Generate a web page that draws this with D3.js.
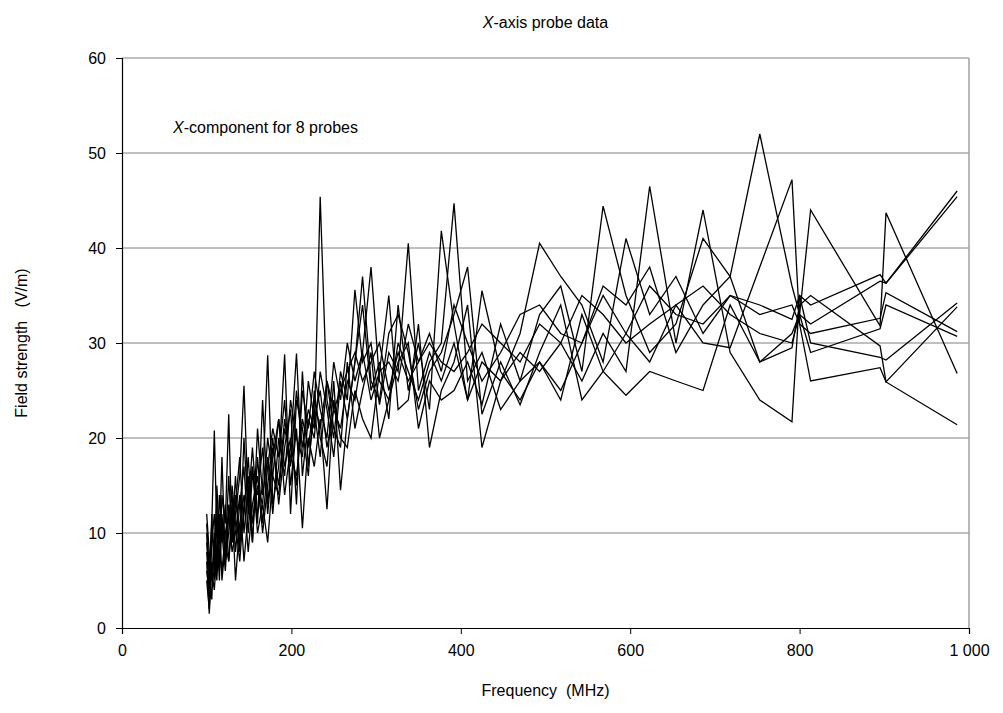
<!DOCTYPE html>
<html>
<head>
<meta charset="utf-8">
<script src="https://cdn.jsdelivr.net/npm/d3@7"></script>
<style>
  body { margin: 0; background: #fff; }
  svg text { font-family: "Liberation Sans", Arial, sans-serif; fill: #000; }
</style>
</head>
<body>
<svg id="chart"></svg>
<script>
const W = 1003, H = 713;
const margin = { top: 58, right: 34, bottom: 85, left: 122 };
const innerW = W - margin.left - margin.right;
const innerH = H - margin.top - margin.bottom;

// frequencies (MHz), shared by all probes
const freq = [100,103,106,109,112,115,118,122,126,130,
  134,139,144,149,154,160,166,172,178,185,
  192,199,206,213,220,227,234,242,250,258,
  266,275,284,294,304,315,326,338,350,363,
  377,392,408,425,447,470,493,518,543,568,
  595,623,654,686,718,753,791,800,813,895,
  902,986];

// field strength (V/m) per probe
const probe1 = [8,4,12,6,15,9,18,7,13,10, 16,8,20,12,17,11,24,13,19,15,
  22,17,25,19,23,21,45.4,24,20,27, 24,35.6,28,30,23.5,29,27,40.5,25,29,
  26,30,24,28,26,31,40.5,37,34,28, 41,33,37,31,35,34,32.5,35,34,37.2, 36.3,46.0];
const probe2 = [11,6,3,9,13,6,11,8,16,9, 13,18,10,15,9,21,14,18,12,20,
  16,24,20,18,26,22,25,19,23,21, 26,24,29,38,26,24,30,27,24,28,
  30,44.7,26,29,23,26,33,36,27,44.4, 35,29,32,41,37,28,31,33,32,36.5, 36.3,45.4];
const probe3 = [5,2,9,12,7,14,10,6,12,8, 10,14,7,12,17,10,13,9,16,22,
  14,19,28.9,16,22,20,27,23,18,26, 22,28,34,25,28,22,34,25,30,23,
  41.8,32,24,35.5,27,24,28,25,30,36, 34,38,29,34,37,52,36,33,44,31.8, 43.7,26.8];
const probe4 = [9,6,11,20.8,10,5,14,11,22.5,9, 12,16,25.5,13,19,12,15,28.7,13,17,
  28.8,12,24,21,16,25,20,17,26,14.5, 22,28,37,26,24,31,33,29,23,27,
  29,33,38,22.5,28,23.5,29,34,24,27, 31,28,34,30,29.5,38,47.2,32,26,27.4, 25.9,33.8];
const probe5 = [7,1.5,6,4,8,12,5,9,7,13, 5,11,14,8,13,16,10,15,20,13,
  19,23,13,27,17,23,18,26,21,19, 28,21,25,29,20,24,28,30,21,26,
  24,25,28,23.5,32,26,28,24,33,27, 24.5,27,26,25,34,28,29.5,34,35,29.7, 25.9,21.4];
const probe6 = [10,3,7,5,11,8,6,10,12,14, 8,13,17,10,16,14,19,12,18,22,
  17,20,15,25,21,27,23,20,28,24, 30,26,29,24,27,28,26,32,28,31,
  27,34,30,26,29,33,34,31,30,35, 31,36,33,32,35,33,34,32,31,32.6, 35.3,31.2];
const probe7 = [6,4,10,8,5,11,9,13,7,11, 14,9,12,18,11,15,13,20,16,14,
  21,18,16,22,19,24,21,26,23,25, 27,29,26,28,30,25,29,26,28,30,
  28,27,29,32,30,28,32,30,35,33, 30,32,34,36,33,31,30,33,29,31.5, 34,30.7];
const probe8 = [12,8,5,10,6,9,12,7,10,15, 11,7,13,16,9,18,11,17,21,18,
  24,15,21,10.5,20,17,22,12.5,24,20, 19,25,22,20,27,35,23,24,32,19,
  25,28,34,19,26,29,27,30,26,31, 27,46.5,30,44,29,24,21.7,35,30,28.5, 28.2,34.2];

const probes = [probe1, probe2, probe3, probe4, probe5, probe6, probe7, probe8];
const xTicks = [0, 200, 400, 600, 800, 1000];
const yTicks = [0, 10, 20, 30, 40, 50, 60];

const svg = d3.select("#chart")
  .attr("width", W)
  .attr("height", H);

const g = svg.append("g")
  .attr("transform", `translate(${margin.left},${margin.top})`);

const x = d3.scaleLinear().domain([0, 1000]).range([0, innerW]);
const y = d3.scaleLinear().domain([0, 60]).range([innerH, 0]);

// Grid
g.append("g")
  .selectAll("line")
  .data(yTicks.slice(1))
  .enter()
  .append("line")
  .attr("x1", 0)
  .attr("x2", innerW)
  .attr("y1", d => y(d))
  .attr("y2", d => y(d))
  .attr("stroke", "#808080")
  .attr("stroke-width", 1);

// plot border (right side)
g.append("line")
  .attr("x1", innerW).attr("x2", innerW)
  .attr("y1", 0).attr("y2", innerH)
  .attr("stroke", "#a0a0a0")
  .attr("stroke-width", 1.5);

// Axis X
const fmt = d => d >= 1000 ? d3.format(",")(d).replace(",", " ") : d;
const ax = g.append("g")
  .attr("transform", `translate(0,${innerH})`)
  .call(d3.axisBottom(x).tickValues(xTicks).tickSize(6).tickPadding(8).tickFormat(fmt));

// Axis Y
const ay = g.append("g")
  .call(d3.axisLeft(y).tickValues(yTicks).tickSize(6).tickPadding(10));

[ax, ay].forEach(a => {
  a.select(".domain").attr("stroke", "#000").attr("stroke-width", 1.2);
  a.selectAll(".tick line").attr("stroke", "#000");
  a.selectAll(".tick text")
    .style("font-size", "16px")
    .style("font-family", "Liberation Sans, Arial, sans-serif");
});
ax.selectAll(".tick text").attr("dy", "0.9em");

// Lines
const line = d3.line()
  .x((d, i) => x(freq[i]))
  .y(d => y(d));

g.selectAll(".probe")
  .data(probes)
  .enter()
  .append("path")
  .attr("class", "probe")
  .attr("d", line)
  .attr("fill", "none")
  .attr("stroke", "#000")
  .attr("stroke-width", 1.3)
  .attr("stroke-linejoin", "miter");

// Title
const title = svg.append("text")
  .attr("x", margin.left + innerW / 2)
  .attr("y", 28)
  .attr("text-anchor", "middle")
  .style("font-size", "16px");
title.append("tspan").style("font-style", "italic").text("X");
title.append("tspan").text("-axis probe data");

// Annotation
const note = g.append("text")
  .attr("x", 51)
  .attr("y", 75)
  .style("font-size", "16px");
note.append("tspan").style("font-style", "italic").text("X");
note.append("tspan").text("-component for 8 probes");

// Label X
svg.append("text")
  .attr("x", margin.left + innerW / 2)
  .attr("y", 696)
  .attr("text-anchor", "middle")
  .style("font-size", "16px")
  .style("white-space", "pre")
  .text("Frequency  (MHz)");

// Label Y
svg.append("text")
  .attr("transform", `translate(27,${margin.top + innerH / 2}) rotate(-90)`)
  .attr("text-anchor", "middle")
  .style("font-size", "16px")
  .style("white-space", "pre")
  .text("Field strength   (V/m)");
</script>
</body>
</html>
